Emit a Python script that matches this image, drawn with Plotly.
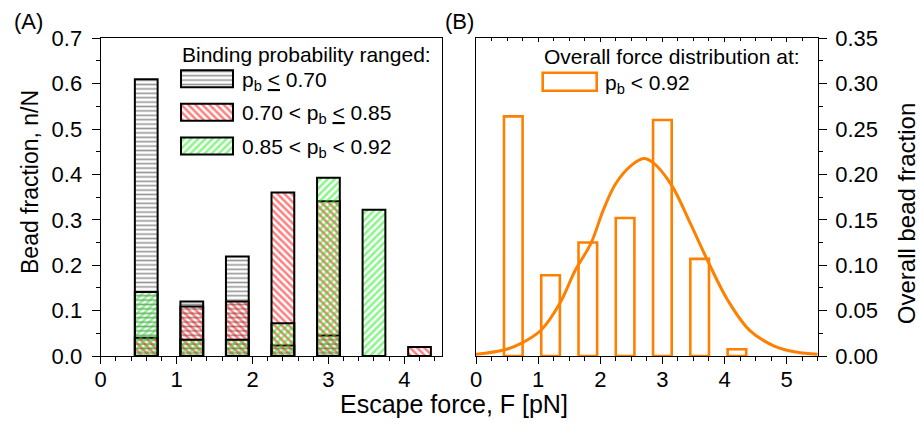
import plotly.graph_objects as go

# ---------------- data ----------------
force_centers = [0.6, 1.2, 1.8, 2.4, 3.0, 3.6, 4.2]
frac_low = [0.61, 0.12, 0.219, 0.023, 0.045, None, None]        # p_b <= 0.70
frac_mid = [0.04, 0.109, 0.12, 0.36, 0.341, None, 0.02]         # 0.70 < p_b <= 0.85
frac_high = [0.141, 0.036, 0.036, 0.072, 0.393, 0.322, None]    # 0.85 < p_b < 0.92
overall = [0.264, 0.089, 0.125, 0.152, 0.26, 0.107, 0.0075]     # p_b < 0.92

fit_x = [0.0, 0.45, 0.75, 1.05, 1.35, 1.6, 1.85, 2.05, 2.25, 2.5, 2.7,
         2.85, 3.15, 3.45, 3.75, 4.05, 4.4, 4.8, 5.15, 5.5]
fit_y = [0.002, 0.0066, 0.0147, 0.0286, 0.058, 0.0947, 0.124, 0.161, 0.19, 0.21, 0.2175,
         0.213, 0.188, 0.146, 0.102, 0.0617, 0.0286, 0.011, 0.0044, 0.0018]

left_xticks = [0, 1, 2, 3, 4]
left_yticks = [0.0, 0.1, 0.2, 0.3, 0.4, 0.5, 0.6, 0.7]
right_xticks = [0, 1, 2, 3, 4, 5]
right_yticks = [0.00, 0.05, 0.10, 0.15, 0.20, 0.25, 0.30, 0.35]

legend_labels = ["p<sub>b</sub> <span style='text-decoration:underline'>&lt;</span> 0.70",
                 "0.70 &lt; p<sub>b</sub> <span style='text-decoration:underline'>&lt;</span> 0.85",
                 "0.85 &lt; p<sub>b</sub> &lt; 0.92"]

# ---------------- styles ----------------
W, H = 920, 425
FONT = "Liberation Sans, Arial, sans-serif"
ORANGE = "#FF8000"
BAR_W = 0.3

patterns = [
    dict(shape="-", fgcolor="#333333", bgcolor="rgba(0,0,0,0)", size=4.4, solidity=0.38, fillmode="overlay"),
    dict(shape="\\", fgcolor="#FF0000", bgcolor="rgba(0,0,0,0)", size=5, solidity=0.5, fillmode="overlay"),
    dict(shape="/", fgcolor="#11EE11", bgcolor="rgba(0,0,0,0)", size=5, solidity=0.5, fillmode="overlay"),
]

# panel geometry (pixels)
L_x0, L_x1 = 100.7, 442.3
R_x0, R_x1 = 476.0, 817.7
P_y0, P_y1 = 38.3, 356.0   # top, bottom


def px(x):
    return x / W


def py(y):
    return 1 - y / H


fig = go.Figure()

# left panel overlaid bars
for vals, pat in zip([frac_low, frac_mid, frac_high], patterns):
    fig.add_trace(go.Bar(
        x=force_centers, y=vals, width=BAR_W, xaxis="x", yaxis="y",
        marker=dict(color="rgba(0,0,0,0)", pattern=pat, line=dict(color="black", width=2)),
        showlegend=False, hoverinfo="skip"))

# custom legend swatches (left panel) on a hidden pixel-unit axis
sw_x0, sw_x1 = 181 - L_x0, 233 - L_x0
row_centers = [78.7, 112.3, 146.0]
sw_h = 17
for rc, pat in zip(row_centers, patterns):
    fig.add_trace(go.Bar(
        y=[P_y1 - rc], x=[sw_x1 - sw_x0], base=[sw_x0], width=[sw_h], orientation="h",
        xaxis="x3", yaxis="y3",
        marker=dict(color="rgba(0,0,0,0)", pattern=pat, line=dict(color="black", width=2)),
        showlegend=False, hoverinfo="skip"))

# right panel bars
fig.add_trace(go.Bar(
    x=force_centers, y=overall, width=BAR_W, xaxis="x2", yaxis="y2",
    marker=dict(color="rgba(0,0,0,0)", line=dict(color=ORANGE, width=2.6)),
    showlegend=False, hoverinfo="skip"))

# fitted curve
fig.add_trace(go.Scatter(
    x=fit_x, y=fit_y, mode="lines", xaxis="x2", yaxis="y2",
    line=dict(color=ORANGE, width=3, shape="spline", smoothing=1.0),
    showlegend=False, hoverinfo="skip"))

# dummy trace for the top tick axis of the right panel
fig.add_trace(go.Scatter(x=[None], y=[None], xaxis="x4", yaxis="y2",
                         showlegend=False, hoverinfo="skip"))

tickfont = dict(family=FONT, size=22, color="black")
common_axis = dict(showgrid=False, zeroline=False, showline=True, linecolor="black",
                   linewidth=1.3, tickcolor="black", tickwidth=1.3, tickfont=tickfont,
                   automargin=False)

fig.update_layout(
    template="none",
    width=W, height=H,
    autosize=False,
    margin=dict(l=0, r=0, t=0, b=0, pad=0, autoexpand=False),
    paper_bgcolor="white", plot_bgcolor="white",
    barmode="overlay",
    font=dict(family=FONT, color="black"),
    xaxis=dict(domain=[px(L_x0), px(L_x1)], range=[0, 4.5], anchor="y",
               tickvals=left_xticks, ticks="outside", ticklen=7, mirror=True, ticklabelstandoff=-4,
               minor=dict(dtick=0.2, tick0=0, ticks="outside", ticklen=4, tickcolor="black", tickwidth=1.3),
               **common_axis),
    yaxis=dict(domain=[py(P_y1), py(P_y0)], range=[0, 0.7], anchor="x",
               tickvals=left_yticks, ticktext=[f"{v:.1f}" for v in left_yticks],
               ticks="outside", ticklen=8, mirror=True, ticklabelstandoff=5,
               minor=dict(dtick=0.05, tick0=0, ticks="outside", ticklen=4, tickcolor="black", tickwidth=1.3),
               **common_axis),
    xaxis2=dict(domain=[px(R_x0), px(R_x1)], range=[0, 5.5], anchor="y2",
                tickvals=right_xticks, ticks="outside", ticklen=7, mirror=True, ticklabelstandoff=-4,
                minor=dict(dtick=0.25, tick0=0, ticks="outside", ticklen=4, tickcolor="black", tickwidth=1.3),
                **common_axis),
    yaxis2=dict(domain=[py(P_y1), py(P_y0)], range=[0, 0.35], anchor="x2", side="right",
                tickvals=right_yticks, ticktext=[f"{v:.2f}" for v in right_yticks],
                ticks="outside", ticklen=8, mirror=True, ticklabelstandoff=4,
                minor=dict(dtick=0.025, tick0=0, ticks="outside", ticklen=4, tickcolor="black", tickwidth=1.3),
                **common_axis),
    xaxis3=dict(domain=[px(L_x0), px(L_x1)], range=[0, L_x1 - L_x0], anchor="y3",
                overlaying="x", visible=False, automargin=False),
    yaxis3=dict(domain=[py(P_y1), py(P_y0)], range=[0, P_y1 - P_y0], anchor="x3",
                overlaying="y", visible=False, automargin=False),
    xaxis4=dict(domain=[px(R_x0), px(R_x1)], range=[0, 5.5], anchor="y2", overlaying="x2",
                side="top", showgrid=False, zeroline=False, showline=False, automargin=False,
                tickvals=right_xticks, ticks="inside", ticklen=4, tickcolor="black", tickwidth=1.3,
                showticklabels=False,
                minor=dict(dtick=0.25, tick0=0, ticks="inside", ticklen=3, tickcolor="black", tickwidth=1.3)),
)

ann_font = dict(family=FONT, size=22, color="black")
ytitle_font = dict(family=FONT, size=23, color="black")
title_font = dict(family=FONT, size=24, color="black")
xtitle_font = dict(family=FONT, size=25, color="black")
leg_font = dict(family=FONT, size=21, color="black")

annotations = [
    dict(text="(A)", x=px(28), y=py(21), font=ann_font),
    dict(text="(B)", x=px(459), y=py(22), font=ann_font),
    dict(text="Bead fraction, n/N", x=px(30), y=py(182), textangle=-90, font=ytitle_font),
    dict(text="Overall bead fraction", x=px(906.7), y=py(213.5), textangle=-90, font=title_font),
    dict(text="Escape force, F [pN]", x=px(454.3), y=py(404), font=xtitle_font),
    dict(text="Binding probability ranged:", x=px(180), y=py(54), xanchor="left", font=leg_font),
    dict(text="Overall force distribution at:", x=px(542), y=py(56), xanchor="left", font=leg_font),
    dict(text="p<sub>b</sub> &lt; 0.92", x=px(603), y=py(84), xanchor="left", font=leg_font),
]
for rc, lab in zip(row_centers, legend_labels):
    annotations.append(dict(text=lab, x=px(240), y=py(rc + 2), xanchor="left", font=leg_font))

for a in annotations:
    a.setdefault("xanchor", "center")
    a.update(xref="paper", yref="paper", yanchor="middle", showarrow=False)
fig.update_layout(annotations=annotations)

# right legend swatch (open rectangle)
fig.add_shape(type="rect", xref="paper", yref="paper",
              x0=px(542.7), x1=px(596.7), y0=py(90.7), y1=py(72.7),
              line=dict(color=ORANGE, width=2.6), fillcolor="rgba(0,0,0,0)")

fig.write_html("out.html")
